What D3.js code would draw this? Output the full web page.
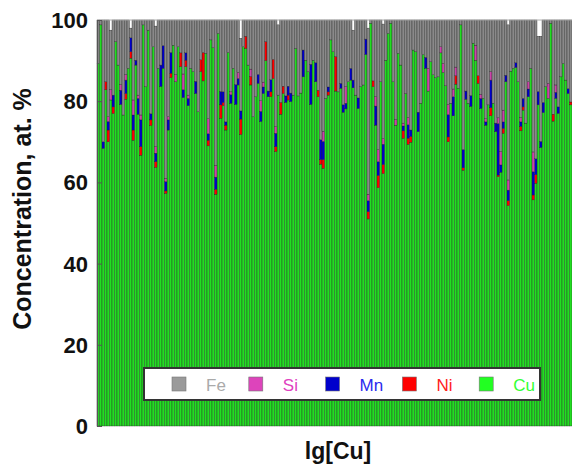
<!DOCTYPE html>
<html>
<head>
<meta charset="utf-8">
<script src="https://cdn.jsdelivr.net/npm/d3@7"></script>
<style>
  body { margin: 0; background: #fff; }
  text { font-family: Arial, "Liberation Sans", sans-serif; }
</style>
</head>
<body>
<div id="chart"></div>
<script>
// composición de cada muestra (at. %), de abajo hacia arriba: Cu, Ni, Mn, Si, Fe
const cu = [89.3, 98.8, 68.4, 82.8, 70.0, 80.3, 77.0, 94.7, 88.9, 79.2,
  76.6, 80.5, 88.1, 90.6, 70.4, 88.9, 76.8, 66.7, 98.8, 83.6,
  97.5, 74.0, 93.4, 63.7, 88.1, 83.6, 88.1, 57.3, 72.9, 85.8,
  93.8, 84.8, 93.4, 88.5, 80.9, 88.5, 78.9, 88.1, 87.3, 81.9,
  77.4, 87.3, 85.0, 91.8, 69.0, 95.1, 93.2, 57.1, 96.7, 75.8,
  78.9, 72.9, 92.0, 79.5, 88.1, 79.2, 84.0, 71.8, 93.4, 93.0,
  88.9, 84.0, 76.2, 81.1, 84.4, 75.0, 81.9, 90.0, 81.1, 81.1,
  85.6, 67.6, 81.5, 76.8, 81.9, 79.7, 80.3, 79.9, 81.5, 93.0,
  81.3, 82.0, 86.0, 90.1, 87.3, 79.2, 90.1, 84.8, 81.1, 64.5,
  63.5, 80.7, 81.5,
  95.1, 92.2, 82.5, 82.3, 83.2, 77.3, 78.1, 84.8, 85.2, 83.3,
  81.5, 78.2, 83.6, 84.0, 91.5, 51.0, 99.2, 83.6, 74.1, 58.7,
  84.8, 62.2, 90.1, 96.7, 99.2, 84.8, 74.1, 91.8, 88.9, 70.9,
  81.9, 69.4, 69.9, 92.6, 92.2, 72.5, 79.5, 91.5, 88.1, 82.5,
  89.7, 86.5, 85.8, 86.0, 91.9, 87.1, 83.8, 70.0, 79.5, 76.4,
  84.2, 83.2, 98.8, 63.0, 80.5, 79.5, 78.7, 94.3, 90.1, 84.4,
  78.2, 80.7, 74.1, 79.1, 76.4, 79.5, 72.5, 61.4, 62.5, 72.1,
  84.8, 54.3, 87.4, 88.1, 88.3, 84.8, 72.7, 77.8, 74.6, 81.1,
  88.1, 55.7, 59.8, 79.1, 68.6, 77.2, 83.6, 80.7, 99.2, 75.1,
  80.7, 77.0, 86.0, 89.3, 85.2, 81.9, 79.1];

const ni = [0, 0, 0, 2.0, 2.9, 0, 1.6, 0, 0, 0,
  0, 1.4, 0, 1.6, 2.5, 0, 0, 2.1, 0, 0,
  0, 1.4, 0, 1.4, 0, 0, 0, 0.6, 0, 1.1,
  0, 0, 0, 3.4, 0, 1.6, 0, 0, 0, 0,
  0, 2.9, 7.0, 0, 1.4, 0, 0, 1.2, 0, 3.3,
  0.8, 1.2, 0, 0, 0, 0, 0, 3.8, 0, 3.0,
  0, 2.1, 0, 0, 0, 0, 0, 4.7, 0, 1.2,
  4.7, 1.2, 0, 2.9, 1.8, 0, 1.2, 0, 0, 0,
  0, 0, 0, 0, 0, 0, 0, 0, 1.6, 1.1,
  2.1, 0, 0.8,
  0, 0, 8.5, 0, 0, 0, 0, 0, 0, 0,
  0, 0, 0, 0, 0, 1.8, 0, 1.4, 0, 3.0,
  0, 2.2, 0, 0, 0, 0, 0, 0, 0, 1.8,
  0, 1.5, 1.4, 0, 0, 0, 0, 0, 0, 0,
  0, 0, 0, 0, 0, 0, 0, 1.2, 0, 0,
  2.1, 0, 0, 0.6, 0, 0, 0, 0, 0, 1.9,
  0, 0, 0, 0, 2.0, 0, 0, 0.4, 0, 1.2,
  0, 1.2, 0, 0, 0, 0, 1.1, 0.8, 0, 0,
  0, 1.2, 2.1, 0, 0, 0, 0, 0, 0, 1.7,
  0, 0, 0, 0, 0, 0, 0.7];

const mn = [0, 0, 1.6, 0, 2.1, 0, 2.9, 0, 0, 3.5,
  0, 3.3, 0, 3.4, 3.7, 1.2, 3.9, 6.6, 0, 0,
  0, 1.5, 0, 2.1, 0, 5.3, 5.6, 2.3, 2.5, 5.1,
  0, 0, 0, 0, 1.9, 1.8, 1.8, 0, 0, 3.0,
  0, 0, 0, 0, 1.6, 0, 0, 3.0, 0, 3.3,
  2.6, 0.8, 0, 2.1, 0, 4.9, 1.6, 2.0, 0, 0,
  0, 0, 0, 0, 2.2, 2.5, 1.6, 0, 1.4, 3.0,
  0, 3.3, 0, 0, 0, 1.6, 2.2, 2.1, 0, 0,
  0, 0, 6.6, 0, 0, 9.9, 0, 4.7, 0, 4.9,
  4.5, 0, 1.2,
  0, 0, 0, 0, 1.2, 1.8, 1.4, 0, 2.9, 1.9,
  0, 2.6, 0, 0, 3.8, 2.7, 0, 0, 4.7, 3.4,
  0, 5.0, 0, 0, 0, 0, 0, 0, 0, 1.2,
  0, 3.3, 1.6, 0, 0, 4.8, 0, 0, 2.7, 0,
  0, 0, 0, 0, 0, 0, 0, 5.5, 0, 4.7,
  0, 0, 0, 4.5, 2.0, 0, 2.7, 0, 0, 0,
  2.5, 0, 0.8, 0, 6.8, 0, 2.1, 12.7, 1.8, 1.6,
  1.6, 2.6, 0, 0, 1.2, 0, 1.1, 2.1, 0, 1.9,
  0, 5.7, 3.9, 3.3, 1.5, 2.5, 0, 0, 0, 0,
  1.5, 1.6, 0, 0, 0, 1.2, 0];

const si = [0, 0, 0, 0, 1.2, 2.5, 0, 0, 0, 1.4,
  0, 1.4, 0, 0, 3.7, 0, 0.8, 1.2, 0, 0,
  0, 0, 0, 1.6, 0, 0, 0, 0.8, 0.8, 0,
  0, 1.8, 0, 0, 3.9, 0, 0.8, 0, 0, 0,
  0, 0, 0, 0, 3.7, 0, 0, 2.9, 0, 0,
  0, 0, 0, 0.7, 0, 0, 1.5, 0, 0, 0,
  0, 1.8, 0, 0, 0, 2.6, 1.2, 0, 0, 0,
  0, 1.6, 0, 0, 0, 0, 0, 0, 0, 0,
  0, 0, 0, 0, 0, 0, 0, 0, 0, 0,
  2.5, 0, 0,
  0, 0, 0, 0, 0, 0, 4.1, 0, 0, 0,
  0, 0, 0, 0, 0, 1.6, 0, 0, 2.3, 3.0,
  0, 1.4, 0, 0, 0, 0, 1.4, 0, 0, 0.7,
  0, 1.8, 0, 0, 0, 0, 0, 0, 0, 5.6,
  0, 0, 0, 0, 1.5, 2.2, 0, 2.5, 0, 1.9,
  2.1, 0, 0, 0, 0, 0, 0, 0, 3.7, 0,
  1.0, 0, 0.8, 0, 2.1, 0, 0, 1.4, 3.3, 2.9,
  0, 2.5, 0, 0, 0, 0, 1.1, 0, 0, 1.8,
  0, 4.9, 0, 0, 0, 0, 0, 3.7, 0, 0,
  1.8, 0, 0, 0, 0, 0, 0];

const fe = [10.7, 1.2, 30.0, 15.2, 23.8, 14.7, 18.5, 5.3, 11.1, 15.9,
  23.4, 13.4, 11.9, 2.4, 19.7, 9.9, 18.5, 23.4, 1.2, 16.4,
  2.5, 23.1, 6.6, 29.7, 11.9, 11.1, 6.3, 39.0, 23.8, 8.0,
  6.2, 13.4, 6.6, 8.1, 13.3, 8.1, 18.5, 11.9, 12.7, 15.1,
  22.6, 9.8, 8.0, 8.2, 24.3, 4.9, 6.8, 35.8, 3.3, 17.6,
  17.7, 25.1, 8.0, 17.7, 11.9, 15.9, 12.9, 17.9, 6.6, 4.0,
  11.1, 12.1, 23.8, 18.9, 13.4, 19.9, 15.3, 5.3, 17.5, 14.7,
  9.7, 26.3, 17.3, 20.3, 16.3, 18.7, 16.3, 18.0, 18.5, 7.0,
  18.7, 18.0, 7.4, 9.9, 12.7, 10.9, 9.9, 10.5, 17.3, 29.5,
  27.4, 19.3, 16.5,
  4.9, 7.8, 9.0, 17.7, 15.6, 20.9, 16.4, 15.2, 11.9, 12.3,
  18.5, 19.2, 16.4, 16.0, 4.7, 40.9, 0.8, 15.0, 18.9, 31.9,
  15.2, 28.2, 9.9, 3.3, 0.8, 15.2, 24.5, 8.2, 11.1, 25.4,
  18.1, 24.0, 27.1, 7.4, 7.8, 22.7, 20.5, 8.5, 9.2, 11.9,
  10.3, 13.5, 14.2, 14.0, 6.6, 10.7, 16.2, 20.8, 20.5, 17.0,
  11.6, 16.8, 1.2, 31.9, 17.5, 20.5, 18.6, 5.7, 6.2, 13.7,
  18.3, 19.3, 24.3, 20.9, 12.7, 20.5, 25.4, 24.1, 32.4, 22.2,
  13.6, 38.2, 12.6, 11.9, 10.5, 15.2, 24.0, 19.3, 25.4, 15.2,
  11.9, 32.5, 34.2, 13.6, 25.9, 20.3, 16.4, 15.6, 0.8, 23.2,
  16.0, 21.4, 14.0, 10.7, 14.8, 16.9, 20.2];

const elementos = ["Cu", "Ni", "Mn", "Si", "Fe"];
const yTicks = [0, 20, 40, 60, 80, 100];
const legendOrder = ["Fe", "Si", "Mn", "Ni", "Cu"];

const fillColor = { Cu: "#22dd22", Ni: "#ff0000", Mn: "#0000cc", Si: "#cc44aa", Fe: "#8a8a8a" };
const legendBox = { Cu: "#22ff22", Ni: "#ff0000", Mn: "#0000cc", Si: "#dd44bb", Fe: "#9a9a9a" };
const legendText = { Cu: "#33ff33", Ni: "#ff2020", Mn: "#2a2aee", Si: "#e040c0", Fe: "#aaaaaa" };

// armar las filas de la tabla
const muestras = cu.map((v, i) => ({
  id: i + 1, Cu: v, Ni: ni[i], Mn: mn[i], Si: si[i], Fe: fe[i]
}));

const width = 572, height = 465;
const m = { left: 97, right: 572, top: 20, bottom: 426 };

const svg = d3.select("#chart").append("svg")
  .attr("width", width)
  .attr("height", height);

const x = d3.scaleBand()
  .domain(muestras.map(d => d.id))
  .range([m.left, m.right])
  .padding(0);

const y = d3.scaleLinear()
  .domain([0, 100])
  .range([m.bottom, m.top]);

const series = d3.stack().keys(elementos)(muestras);

// barras apiladas
svg.append("g")
  .selectAll("g")
  .data(series)
  .join("g")
  .attr("fill", d => fillColor[d.key])
  .selectAll("rect")
  .data(d => d.filter(p => p[1] - p[0] > 0))
  .join("rect")
  .attr("x", p => x(p.data.id))
  .attr("y", p => y(p[1]))
  .attr("width", x.bandwidth())
  .attr("height", p => y(p[0]) - y(p[1]))
  .attr("stroke", "#222")
  .attr("stroke-width", 0.35);

// marco superior
svg.append("line")
  .attr("x1", m.left).attr("x2", m.right)
  .attr("y1", m.top).attr("y2", m.top)
  .attr("stroke", "#b0b0b0")
  .attr("stroke-width", 1);

// eje Y
const ejeY = svg.append("g")
  .attr("transform", `translate(${m.left}, 0)`)
  .call(d3.axisRight(y).tickValues(yTicks).tickSize(5).tickFormat(""));
ejeY.select(".domain").attr("stroke", "#555").attr("stroke-width", 1.2);
ejeY.selectAll(".tick line").attr("stroke", "#555");

svg.append("g")
  .selectAll("text")
  .data(yTicks)
  .join("text")
  .attr("x", m.left - 9)
  .attr("y", d => y(d))
  .attr("dy", "0.36em")
  .attr("text-anchor", "end")
  .attr("font-size", 22)
  .attr("font-weight", "bold")
  .attr("fill", "#111")
  .text(d => d);

// etiquetas de los ejes
svg.append("text")
  .attr("transform", "rotate(-90)")
  .attr("x", -209)
  .attr("y", 31)
  .attr("text-anchor", "middle")
  .attr("font-size", 25)
  .attr("font-weight", "bold")
  .attr("fill", "#111")
  .text("Concentration, at. %");

svg.append("text")
  .attr("x", 338)
  .attr("y", 459)
  .attr("text-anchor", "middle")
  .attr("font-size", 23)
  .attr("font-weight", "bold")
  .attr("fill", "#111")
  .text("lg[Cu]");

// leyenda
const leyenda = svg.append("g");
leyenda.append("rect")
  .attr("x", 144).attr("y", 368)
  .attr("width", 396).attr("height", 32)
  .attr("fill", "#fff")
  .attr("stroke", "#333")
  .attr("stroke-width", 2);

const item = leyenda.selectAll("g")
  .data(legendOrder)
  .join("g")
  .attr("transform", (d, i) => `translate(${172 + i * 76.8}, 377)`);

item.append("rect")
  .attr("width", 14).attr("height", 14)
  .attr("fill", d => legendBox[d])
  .attr("stroke", "#777")
  .attr("stroke-width", 0.6);

item.append("text")
  .attr("x", 34)
  .attr("y", 13.5)
  .attr("font-size", 17)
  .attr("fill", d => legendText[d])
  .text(d => d);
</script>
</body>
</html>
